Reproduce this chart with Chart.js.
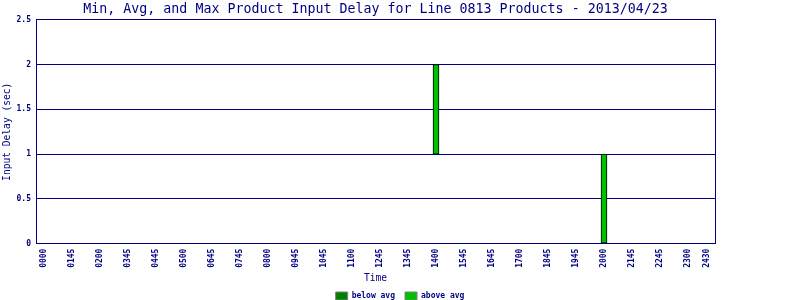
<!DOCTYPE html>
<html><head><meta charset="utf-8">
<script src="https://cdn.jsdelivr.net/npm/chart.js@4/dist/chart.umd.min.js"></script>
<style>html,body{margin:0;padding:0;background:#fff}#wrap{width:800px;height:300px}</style>
</head><body><div id="wrap"><canvas id="c" width="800" height="300"></canvas></div>
<script>
const timeLabels = ['0000','0145','0200','0345','0445','0500','0645','0745','0800','0945','1045','1100','1245','1345','1400','1545','1645','1700','1845','1945','2000','2145','2245','2300','2430'];
const barTimes = ['1400','2000'];
const minDelay = [1, 0];
const avgDelay = [1, 0];
const maxDelay = [2, 1];
const seriesNames = ['below avg','above avg'];

const NAVY = '#000080';
const MONO = "'DejaVu Sans Mono', 'Liberation Mono', monospace";
const lastTickPos = 23.68;

const belowData = barTimes.map((t,k)=>({x: timeLabels.indexOf(t), y: [minDelay[k], avgDelay[k]]}));
const aboveData = barTimes.map((t,k)=>({x: timeLabels.indexOf(t), y: [avgDelay[k], maxDelay[k]]}));

new Chart(document.getElementById('c'), {
  type: 'bar',
  data: {
    datasets: [
      {label: seriesNames[0], data: belowData, backgroundColor: '#008000', borderColor: '#000000', borderWidth: 1, borderSkipped: false, barThickness: 6, grouped: false},
      {label: seriesNames[1], data: aboveData, backgroundColor: '#00c000', borderColor: '#000000', borderWidth: 1, borderSkipped: false, barThickness: 6, grouped: false}
    ]
  },
  options: {
    responsive: false,
    animation: false,
    devicePixelRatio: 1,
    layout: {padding: {left: 0, right: 0, top: 0, bottom: -10}},
    plugins: {
      tooltip: {enabled: false},
      title: {display: true, fullSize: false, text: 'Min, Avg, and Max Product Input Delay for Line 0813 Products - 2013/04/23', color: NAVY, font: {family: MONO, size: 13.3, weight: 'normal'}, padding: {top: 2, bottom: 2}},
      legend: {display: true, position: 'bottom', labels: {color: NAVY, font: {family: MONO, size: 8, weight: 'bold'}, boxWidth: 12, boxHeight: 8, padding: 10,
        generateLabels: (chart) => chart.data.datasets.map((ds, i) => ({text: ds.label, fillStyle: ds.backgroundColor, strokeStyle: '#808080', lineWidth: 1, fontColor: NAVY, hidden: false, datasetIndex: i}))
      }}
    },
    scales: {
      x: {
        type: 'linear', min: -0.286, max: 23.964, offset: false,
        grid: {display: false, drawTicks: false, offset: false},
        border: {color: NAVY, width: 1},
        afterBuildTicks: (scale) => { scale.ticks = timeLabels.map((_, i) => ({value: i < timeLabels.length - 1 ? i : lastTickPos})); },
        afterFit: (scale) => { scale.height = 38.4; },
        ticks: {autoSkip: false, maxRotation: 90, minRotation: 90, padding: 5, color: NAVY, font: {family: MONO, size: 8, weight: 'bold'}, callback: (v, i) => timeLabels[i]},
        title: {display: true, text: 'Time', color: NAVY, font: {family: MONO, size: 9.6}, padding: {top: -2, bottom: -2}}
      },
      y: {
        min: 0, max: 2.5,
        ticks: {stepSize: 0.5, padding: 5, color: NAVY, font: {family: MONO, size: 8, weight: 'bold'}, callback: (v) => String(v)},
        grid: {color: NAVY, lineWidth: 1, drawTicks: false},
        border: {color: NAVY, width: 1},
        afterFit: (scale) => { scale.width = 36; },
        title: {display: true, text: 'Input Delay (sec)', color: NAVY, font: {family: MONO, size: 9.6}, padding: {top: 2, bottom: 0}}
      },
      y2: {
        position: 'right', min: 0, max: 2.5,
        ticks: {display: false},
        grid: {display: false, drawTicks: false},
        border: {color: NAVY, width: 1},
        afterFit: (scale) => { scale.width = 85; }
      }
    }
  }
});
</script></body></html>
